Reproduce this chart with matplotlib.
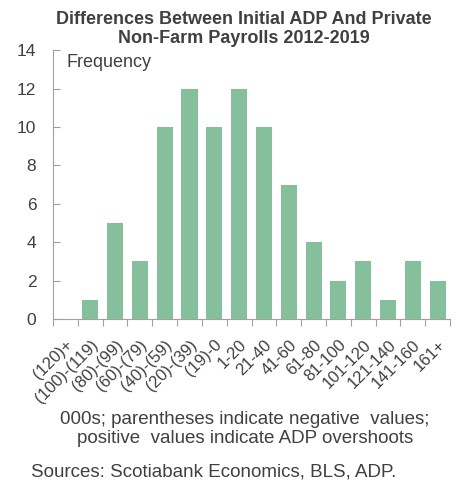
import matplotlib.pyplot as plt

plt.rcParams['font.family'] = ['Liberation Sans', 'DejaVu Sans']

# Data
categories = ['(120)+', '(100)-(119)', '(80)-(99)', '(60)-(79)', '(40)-(59)',
              '(20)-(39)', '(19)-0', '1-20', '21-40', '41-60', '61-80',
              '81-100', '101-120', '121-140', '141-160', '161+']
frequency = [0, 1, 5, 3, 10, 12, 10, 12, 10, 7, 4, 2, 3, 1, 3, 2]

text_color = '#404040'
bar_color = '#86BF9C'
axis_color = '#a0a0a0'

fig = plt.figure(figsize=(4.59, 4.82), dpi=100)
ax = fig.add_axes([0.1155, 0.338, 0.865, 0.558])

x = range(len(categories))
ax.bar(x, frequency, width=0.65, color=bar_color)

ax.set_xlim(-0.5, len(categories) - 0.5)
ax.set_ylim(0, 14)
ax.set_yticks(range(0, 15, 2))
ax.tick_params(axis='y', direction='in', length=5, color=axis_color,
               labelsize=12.5, labelcolor=text_color, pad=12)

# x ticks: marks at category boundaries, labels at centres
ax.set_xticks([i - 0.5 for i in range(len(categories) + 1)], minor=False)
ax.set_xticklabels([])
ax.tick_params(axis='x', which='major', length=5, color=axis_color, direction='out')
ax.set_xticks(list(x), minor=True)
ax.set_xticklabels(categories, minor=True, rotation=45, ha='right',
                   rotation_mode='anchor', fontsize=12, color=text_color)
ax.tick_params(axis='x', which='minor', length=0, pad=13)

for s in ['top', 'right']:
    ax.spines[s].set_visible(False)
for s in ['left', 'bottom']:
    ax.spines[s].set_color(axis_color)

ax.text(0.035, 0.985, 'Frequency', transform=ax.transAxes, ha='left', va='top',
        fontsize=13, color=text_color)

fig.text(0.532, 0.940, 'Differences Between Initial ADP And Private\nNon-Farm Payrolls 2012-2019',
         ha='center', va='center', fontsize=13, fontweight='bold', color=text_color,
         linespacing=1.12)

fig.text(0.534, 0.110, '000s; parentheses indicate negative  values;\npositive  values indicate ADP overshoots',
         ha='center', va='center', fontsize=13.5, color=text_color, linespacing=1.12)

fig.text(0.068, 0.021, 'Sources: Scotiabank Economics, BLS, ADP.', ha='left', va='center',
         fontsize=13.5, color=text_color)

fig.savefig('out.png', dpi=100)
